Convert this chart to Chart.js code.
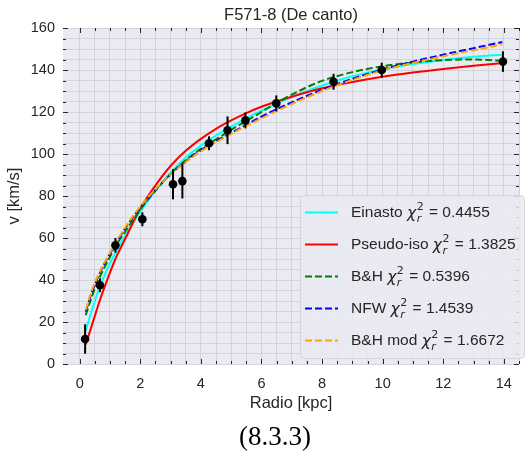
<!DOCTYPE html>
<html>
<head>
<meta charset="utf-8">
<script src="https://cdn.jsdelivr.net/npm/chart.js@4.4.1/dist/chart.umd.min.js"></script>
<style>
  html, body { margin: 0; padding: 0; background: #fff; }
  #wrap { position: relative; width: 530px; height: 457px; }
</style>
</head>
<body>
<div id="wrap"><canvas id="c" width="530" height="457"></canvas></div>
<script>
// datos observados (F571-8)
const radio = [0.18, 0.67, 1.18, 2.07, 3.08, 3.39, 4.27, 4.88, 5.47, 6.49, 8.38, 9.97, 13.97];
const vel   = [11.9, 37.5, 56.5, 68.9, 85.6, 87.1, 105.1, 111.3, 116.0, 124.1, 134.4, 140.0, 144.0];
const err   = [7.0, 3.3, 3.5, 3.3, 7.2, 8.3, 3.3, 6.6, 3.8, 3.8, 3.8, 3.5, 4.9];

// curvas de los modelos
const rModelo   = [0.2, 0.4, 0.67, 1, 1.18, 1.5, 2, 2.5, 3, 3.5, 4, 4.5, 5, 5.5, 6, 6.5, 7, 8, 9, 10, 11, 12, 13, 13.95];
const vEinasto  = [16, 25.5, 37, 48, 53, 61, 72.5, 82.5, 91, 98.3, 104, 108.8, 113, 117, 120.6, 124, 127.1, 132.6, 137, 140.3, 142.8, 144.8, 146.3, 147.3];
const vPseudo   = [9.3, 18.3, 30.5, 43.5, 50, 59.5, 74, 85, 94.3, 101.5, 107.2, 112, 116, 119.5, 122.5, 125, 127.3, 131.3, 134.3, 136.8, 138.8, 140.5, 142, 143.3];
const vBH       = [23.3, 32, 41.6, 51, 55.9, 63, 73.5, 82.5, 90.5, 97, 102.5, 107, 111.5, 115.7, 120, 124.3, 128.3, 134.8, 139, 141.8, 143.6, 144.7, 145, 144.4];
const vNFW      = [25, 34, 43.5, 52.5, 57, 64.5, 74.5, 83, 90.3, 96.5, 101.8, 106.2, 110, 114, 117.8, 121.3, 124.6, 130.6, 135.8, 140.3, 144, 147.3, 150.4, 153.3];
const vBHmod    = [25.7, 35, 44, 53, 57.5, 65, 75, 83.2, 90.2, 96.2, 101.3, 105.6, 109.6, 113.4, 117, 120.5, 123.8, 130, 135.3, 139.8, 143.4, 146.5, 149.4, 152.2];

// leyenda
const nombres = ['Einasto', 'Pseudo-iso', 'B&H', 'NFW', 'B&H mod'];
const chi2    = ['0.4455', '1.3825', '0.5396', '1.4539', '1.6672'];
const colores = ['#00ffff', '#ff0000', '#008000', '#0000ff', '#ffa500'];
const rayas   = [false, false, true, true, true];

// ticks
const xTicks = [0, 2, 4, 6, 8, 10, 12, 14];
const yTicks = [0, 20, 40, 60, 80, 100, 120, 140, 160];

const TXT = '#262626';
const SANS = '"Liberation Sans", Arial, sans-serif';

function pts(xs, ys) {
    return xs.map((x, i) => ({ x: x, y: ys[i] }));
}

// minor ticks (cada 0.5 en x, cada 5 en y)
const xMinor = [];
for (let v = 0; v <= 14.5; v += 0.5) xMinor.push(v);
const yMinor = [];
for (let v = 0; v <= 160; v += 5) yMinor.push(v);

function curva(data, i, order) {
    return {
        data: pts(rModelo, data),
        borderColor: colores[i],
        borderWidth: 2,
        borderDash: rayas[i] ? [7, 3] : [],
        pointRadius: 0,
        fill: false,
        cubicInterpolationMode: 'monotone',
        order: order
    };
}

// fondo del area de la grafica
const fondo = {
    id: 'fondo',
    beforeDraw(chart) {
        const a = chart.chartArea, ctx = chart.ctx;
        ctx.save();
        ctx.fillStyle = '#eaeaf2';
        ctx.fillRect(a.left, a.top, a.right - a.left, a.bottom - a.top);
        ctx.restore();
    }
};

// barras de error
const barras = {
    id: 'barras',
    afterDatasetsDraw(chart) {
        const ctx = chart.ctx, sx = chart.scales.x, sy = chart.scales.y;
        ctx.save();
        ctx.strokeStyle = '#000';
        ctx.lineWidth = 2;
        radio.forEach((r, i) => {
            const px = sx.getPixelForValue(r);
            ctx.beginPath();
            ctx.moveTo(px, sy.getPixelForValue(vel[i] - err[i]));
            ctx.lineTo(px, sy.getPixelForValue(vel[i] + err[i]));
            ctx.stroke();
        });
        ctx.fillStyle = '#000';
        radio.forEach((r, i) => {
            ctx.beginPath();
            ctx.arc(sx.getPixelForValue(r), sy.getPixelForValue(vel[i]), 4.3, 0, Math.PI * 2);
            ctx.fill();
        });
        ctx.restore();
    }
};

// textos, ticks hacia adentro y leyenda
const extras = {
    id: 'extras',
    afterDraw(chart) {
        const ctx = chart.ctx, a = chart.chartArea, sx = chart.scales.x, sy = chart.scales.y;
        ctx.save();

        // ticks
        ctx.strokeStyle = '#262626';
        ctx.lineWidth = 1;
        xMinor.forEach(v => {
            const len = xTicks.includes(v) ? 5 : 3;
            const px = Math.round(sx.getPixelForValue(v)) + 0.5;
            ctx.beginPath();
            ctx.moveTo(px, a.bottom); ctx.lineTo(px, a.bottom - len);
            ctx.moveTo(px, a.top); ctx.lineTo(px, a.top + len);
            ctx.stroke();
        });
        yMinor.forEach(v => {
            const len = yTicks.includes(v) ? 5 : 3;
            const py = Math.round(sy.getPixelForValue(v)) + 0.5;
            ctx.beginPath();
            ctx.moveTo(a.left, py); ctx.lineTo(a.left + len, py);
            ctx.moveTo(a.right, py); ctx.lineTo(a.right - len, py);
            ctx.stroke();
        });

        // titulo y ejes
        ctx.fillStyle = TXT;
        ctx.textAlign = 'center';
        ctx.textBaseline = 'middle';
        ctx.font = '16.5px ' + SANS;
        ctx.fillText('F571-8 (De canto)', (a.left + a.right) / 2, 15);
        ctx.fillText('Radio [kpc]', (a.left + a.right) / 2, 403);
        ctx.save();
        ctx.translate(14, (a.top + a.bottom) / 2);
        ctx.rotate(-Math.PI / 2);
        ctx.fillText('v [km/s]', 0, 0);
        ctx.restore();

        // numero de figura
        ctx.fillStyle = '#000';
        ctx.font = '27px "Liberation Serif", "Times New Roman", serif';
        ctx.fillText('(8.3.3)', 275, 438);

        // leyenda
        const lx = 300, ly = 195, lw = 224, lh = 163;
        ctx.fillStyle = 'rgba(234,234,242,0.85)';
        ctx.strokeStyle = '#d6d6dc';
        ctx.lineWidth = 1;
        ctx.beginPath();
        ctx.roundRect(lx + 0.5, ly + 0.5, lw, lh, 4);
        ctx.fill();
        ctx.stroke();

        nombres.forEach((n, i) => {
            const y = 212.5 + i * 32;
            ctx.strokeStyle = colores[i];
            ctx.lineWidth = 2;
            ctx.setLineDash(rayas[i] ? [7, 3] : []);
            ctx.beginPath();
            ctx.moveTo(305, y); ctx.lineTo(338, y);
            ctx.stroke();
            ctx.setLineDash([]);

            let x = 351;
            ctx.fillStyle = TXT;
            ctx.textAlign = 'left';
            ctx.textBaseline = 'middle';
            ctx.font = '15.5px ' + SANS;
            ctx.fillText(n + ' ', x, y);
            x += ctx.measureText(n + ' ').width;
            ctx.font = 'italic 15.5px "DejaVu Sans", sans-serif';
            ctx.fillText('\u03c7', x, y + 1);
            x += ctx.measureText('\u03c7').width + 0.5;
            ctx.font = '11px "DejaVu Sans", sans-serif';
            ctx.fillText('2', x, y - 5);
            ctx.font = 'italic 11px "DejaVu Sans", sans-serif';
            ctx.fillText('r', x, y + 7);
            x += 8;
            ctx.font = '15.5px ' + SANS;
            ctx.fillText(' = ' + chi2[i], x, y);
        });

        ctx.restore();
    }
};

const gridColor = '#d3d3db';

new Chart(document.getElementById('c'), {
    type: 'line',
    data: {
        datasets: [
            curva(vBHmod, 4, 1),
            curva(vNFW, 3, 2),
            curva(vBH, 2, 3),
            curva(vPseudo, 1, 4),
            curva(vEinasto, 0, 5)
        ]
    },
    options: {
        responsive: false,
        devicePixelRatio: 1,
        animation: false,
        layout: { padding: { left: 0, right: 4, top: 28, bottom: 0 } },
        plugins: { legend: { display: false }, tooltip: { enabled: false } },
        scales: {
            x: {
                type: 'linear',
                min: -0.55,
                max: 14.5,
                afterBuildTicks: s => { s.ticks = xMinor.map(v => ({ value: v })); },
                afterFit: s => { s.height = 93; },
                grid: { color: gridColor, lineWidth: 1, drawTicks: false },
                border: { display: false },
                ticks: {
                    autoSkip: false,
                    maxRotation: 0,
                    padding: 11,
                    color: TXT,
                    font: { family: SANS, size: 14.5 },
                    callback: v => xTicks.includes(v) ? String(v) : ''
                }
            },
            y: {
                min: 0,
                max: 160,
                afterBuildTicks: s => { s.ticks = yMinor.map(v => ({ value: v })); },
                afterFit: s => { s.width = 63; },
                grid: { color: gridColor, lineWidth: 1, drawTicks: false },
                border: { display: false },
                ticks: {
                    autoSkip: false,
                    padding: 8,
                    color: TXT,
                    font: { family: SANS, size: 14.5 },
                    callback: v => yTicks.includes(v) ? String(v) : ''
                }
            }
        }
    },
    plugins: [fondo, barras, extras]
});
</script>
</body>
</html>
